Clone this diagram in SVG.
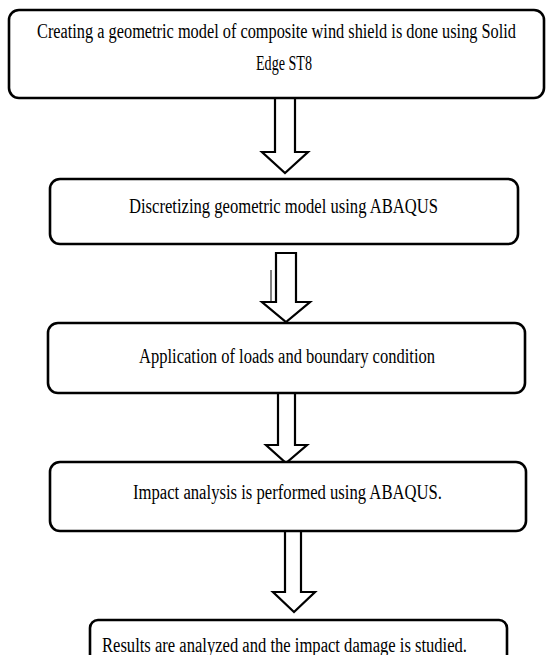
<svg xmlns="http://www.w3.org/2000/svg" width="546" height="655" viewBox="0 0 546 655">
<style>
.box{fill:#fff;stroke:#000;stroke-width:2.6}
.arr{fill:#fff;stroke:#000;stroke-width:2.2;stroke-linejoin:miter}
.t{font-family:'Liberation Serif','DejaVu Serif',serif;font-size:20.5px;fill:#000}
</style>
<rect width="546" height="655" fill="#fff"/>
<g id="connectors">
<polygon class="arr" points="275,98 295,98 295,152 308,152 285,173 262,152 275,152"/>
<polygon class="arr" points="276,253 296,253 296,302 310,302 286,322 262,302 276,302"/>
<line x1="271" y1="270" x2="271" y2="303" stroke="#000" stroke-width="1"/>
<polygon class="arr" points="278,393 295,393 295,445 307,445 286,463 266,445 278,445"/>
<polygon class="arr" points="285,531 301,531 301,592 315,592 294,612 273,592 285,592"/>
</g>
<g id="n1">
<rect class="box" x="9" y="10" width="535" height="88" rx="10"/>
<text class="t" x="37" y="38" textLength="479" lengthAdjust="spacingAndGlyphs">Creating a geometric model of composite wind shield is done using Solid</text>
<text class="t" x="256" y="70" textLength="56" lengthAdjust="spacingAndGlyphs">Edge ST8</text>
</g>
<g id="n2">
<rect class="box" x="50" y="179" width="468" height="65" rx="10"/>
<text class="t" x="129" y="213" textLength="309" lengthAdjust="spacingAndGlyphs">Discretizing geometric model using ABAQUS</text>
</g>
<g id="n3">
<rect class="box" x="48" y="323" width="477" height="70" rx="10"/>
<text class="t" x="139" y="363" textLength="296" lengthAdjust="spacingAndGlyphs">Application of loads and boundary condition</text>
</g>
<g id="n4">
<rect class="box" x="50" y="462" width="476" height="69" rx="10"/>
<text class="t" x="133" y="499" textLength="309" lengthAdjust="spacingAndGlyphs">Impact analysis is performed using ABAQUS.</text>
</g>
<g id="n5">
<rect class="box" x="90" y="620" width="417" height="50" rx="8"/>
<text class="t" x="102" y="652" textLength="365" lengthAdjust="spacingAndGlyphs">Results are analyzed and the impact damage is studied.</text>
</g>
</svg>
